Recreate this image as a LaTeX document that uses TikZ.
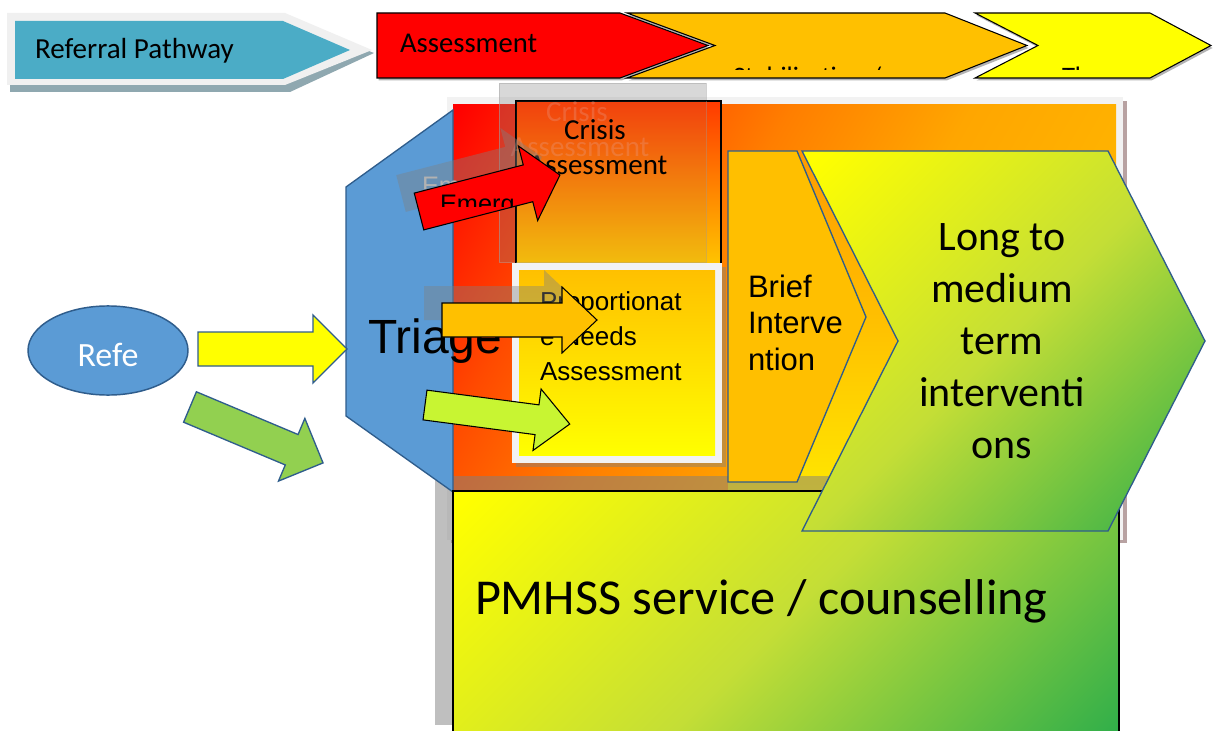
\documentclass[tikz,border=0pt]{standalone}
\usepackage{fontspec}
\setmainfont{Carlito}
\newfontfamily\arialsans{Liberation Sans}
\usetikzlibrary{calc}

\definecolor{pathteal}{HTML}{4BACC6}
\definecolor{pathframe}{HTML}{F0F0F0}
\definecolor{pathshadow}{HTML}{8FA8B0}
\definecolor{shapeblue}{HTML}{5B9BD5}
\definecolor{edgeblue}{HTML}{2F5D8C}
\definecolor{amber}{HTML}{FFC000}
\definecolor{brightyellow}{HTML}{FFFF00}
\definecolor{leafgreen}{HTML}{92D050}
\definecolor{limegreen}{HTML}{C8F532}
\definecolor{framegray}{HTML}{F2F2F2}
\definecolor{frameshadow}{HTML}{B8A2A2}
\definecolor{chevshadow}{HTML}{B4B4B4}
\definecolor{pnlA}{HTML}{FF4A00}
\definecolor{pnlB}{HTML}{FF7E00}
\definecolor{pnlC}{HTML}{FFA600}
\definecolor{grnA}{HTML}{C4DE36}
\definecolor{grnB}{HTML}{2EAE4A}
\definecolor{crisistop}{HTML}{FF3A00}
\definecolor{crisismid}{HTML}{FF9A00}
\definecolor{crisisbot}{HTML}{FFC400}
\definecolor{slivertop}{HTML}{FF9A00}
\definecolor{sliverbot}{HTML}{FFE600}
\definecolor{briefamber}{HTML}{FFBF00}
\definecolor{ghostink}{HTML}{E8A090}

\pgfdeclarehorizontalshading{panelshade}{100bp}{color(0bp)=(red); color(16bp)=(red); color(30bp)=(pnlA); color(42bp)=(pnlB); color(56bp)=(pnlC); color(84bp)=(amber); color(100bp)=(amber)}
\pgfdeclarehorizontalshading{greenshade}{100bp}{color(0bp)=(brightyellow); color(16bp)=(brightyellow); color(50bp)=(grnA); color(85bp)=(grnB); color(100bp)=(grnB)}

% block arrow outline: length, body half width, head half width, head length
\newcommand{\arrowoutline}[4]{(0,-#2) -- ({#1-#4},-#2) -- ({#1-#4},-#3) -- (#1,0) -- ({#1-#4},#3) -- ({#1-#4},#2) -- (0,#2) -- cycle}

\tikzset{
  lbl/.style={inner sep=0pt, outer sep=0pt, text=black},
  blueshape/.style={fill=shapeblue, draw=edgeblue, line width=1pt},
  blackedge/.style={draw=black, line width=0.8pt},
  ghostbox/.style={fill=black!50, fill opacity=0.3},
  ghostarrow/.style={fill=black!50, fill opacity=0.4},
  ghosttext/.style={lbl, text=ghostink, text opacity=0.3},
}

\begin{document}
\begin{tikzpicture}[x=0.75pt, y=-0.75pt, line join=miter]
\useasboundingbox (0,0) rectangle (1214,731);
\fill[white] (0,0) rectangle (1214,731);

% ---- referral pathway tag
\fill[pathshadow] (10,20) -- (290,20) -- (374,53) -- (290,92) -- (10,92) -- cycle;
\fill[pathframe] (7,13) -- (285,13) -- (372,50) -- (285,85) -- (7,85) -- cycle;
\fill[pathteal] (15,21) -- (283,21) -- (350,50) -- (283,79) -- (15,79) -- cycle;
\node[lbl, anchor=base west, font=\fontsize{21.8}{26}\selectfont] (refpath) at (35,59) {Referral Pathway};

% ---- stage chevrons
\begin{scope}[shift={(1.5,2.5)}]
  \fill[chevshadow] (377,13) -- (620,13) -- (708,45.5) -- (620,78) -- (377,78) -- cycle;
  \fill[chevshadow] (627,13) -- (945,13) -- (1027,45.5) -- (945,78) -- (627,78) -- (715,45.5) -- cycle;
  \fill[chevshadow] (975,13) -- (1150,13) -- (1211,45.5) -- (1150,78) -- (975,78) -- (1038,45.5) -- cycle;
\end{scope}
\path[fill=red, blackedge] (377,13) -- (620,13) -- (708,45.5) -- (620,78) -- (377,78) -- cycle;
\path[fill=amber, blackedge] (627,13) -- (945,13) -- (1027,45.5) -- (945,78) -- (627,78) -- (715,45.5) -- cycle;
\path[fill=brightyellow, blackedge] (975,13) -- (1150,13) -- (1211,45.5) -- (1150,78) -- (975,78) -- (1038,45.5) -- cycle;
\node[lbl, anchor=base west, font=\fontsize{21.5}{26}\selectfont] (stageassess) at (400,53) {Assessment};
\begin{scope}
  \clip (377,13) rectangle (1214,70);
  \node[lbl, anchor=base west, font=\fontsize{20}{24}\selectfont] (stagestab) at (733,86) {Stabilisation /};
  \node[lbl, anchor=base west, font=\fontsize{20}{24}\selectfont] (stagether) at (1062,86) {Therapy};
\end{scope}

% ---- service frame and background panel
\fill[frameshadow] (451,101) rectangle (1127,543);
\fill[framegray] (447,97) rectangle (1123,540);
\shade[shading=panelshade, shading angle=-30] (453,105) rectangle (1116,491);
\shade[top color=slivertop, bottom color=sliverbot] (728,151) -- (802,151) -- (898,341) -- (822,491) -- (728,491) -- cycle;
\fill[black!50, fill opacity=0.5] (435,476) rectangle (1101,725);

% ---- triage
\path[blueshape] (453,110) -- (346,187) -- (346,416) -- (453,492) -- cycle;
\node[lbl, anchor=base west, font=\arialsans\fontsize{36}{40}\selectfont] (triage) at (368,353) {Triage};

% ---- crisis assessment
\path[ghostbox, draw=black!35, draw opacity=0.5, line width=0.6pt] (499,83) rectangle (706,262);
\shadedraw[top color=crisistop, middle color=crisismid, bottom color=crisisbot, blackedge] (516,101) rectangle (721,264);
\fill[black!50, fill opacity=0.1] (516,101) rectangle (706,262);
\draw[black!40, draw opacity=0.4, line width=0.6pt] (706,101) -- (706,262) -- (516,262);
\node[ghosttext, anchor=base, font=\fontsize{21.75}{26}\selectfont] (crisisghostA) at (577,122) {Crisis};
\node[ghosttext, anchor=base, font=\fontsize{21.75}{26}\selectfont] (crisisghostB) at (580,157) {Assessment};
\node[lbl, anchor=base, font=\fontsize{21.75}{26}\selectfont] (crisisA) at (595,140) {Crisis};
\node[lbl, anchor=base, font=\fontsize{21.75}{26}\selectfont] (crisisB) at (598,175) {Assessment};

% ---- proportionate needs assessment
\fill[black!50, fill opacity=0.45] (516,267) rectangle (726,467);
\fill[framegray] (512,263) rectangle (722,463);
\shade[top color=amber, bottom color=brightyellow] (519,270) rectangle (715,455);
\foreach \t [count=\i] in {Proportionat, e Needs, Assessment}
  \node[lbl, anchor=base west, font=\arialsans\fontsize{19.5}{23}\selectfont] (prop\i) at (540,{310+35*(\i-1)}) {\t};

% ---- emergency arrow and its ghost
\path[ghostarrow, shift={(401,193.5)}, rotate=14.5] \arrowoutline{145.6}{19}{38.5}{33};
\begin{scope}
  \clip[shift={(401,193.5)}, rotate=14.5] \arrowoutline{145.6}{19}{38.5}{33};
  \clip (0,0) rectangle (1214,189);
  \node[lbl, text=black!30, anchor=base west, font=\arialsans\fontsize{19}{22}\selectfont] (emergghost) at (422,195) {Emerg};
\end{scope}
\path[fill=red, blackedge, shift={(419,211.5)}, rotate=14.5] \arrowoutline{145.6}{19}{38.5}{33};
\begin{scope}
  \clip[shift={(419,211.5)}, rotate=14.5] \arrowoutline{145.6}{19}{38.5}{33};
  \clip (0,0) rectangle (1214,207);
  \node[lbl, anchor=base west, font=\arialsans\fontsize{19}{22}\selectfont] (emerg) at (440,213) {Emerg};
\end{scope}

% ---- routine arrow and its ghost
\path[ghostarrow, shift={(424,303)}] \arrowoutline{155}{17}{33}{35};
\path[fill=amber, blackedge, shift={(442,320)}] \arrowoutline{155}{17}{33}{35};

% ---- direct arrow
\path[fill=limegreen, blackedge, shift={(425,405)}, rotate=-7.5] \arrowoutline{146}{15}{31}{33};

% ---- brief intervention
\path[fill=briefamber, draw=edgeblue, line width=1pt] (728,151) -- (797,151) -- (866,317) -- (797,482) -- (728,482) -- cycle;
\foreach \t [count=\i] in {Brief, Interve, ntion}
  \node[lbl, anchor=base west, font=\arialsans\fontsize{23.25}{27}\selectfont] (brief\i) at (748,{297+36.5*(\i-1)}) {\t};

% ---- PMHSS service
\shadedraw[shading=greenshade, shading angle=-45, blackedge] (453,491) rectangle (1119,745);
\node[lbl, anchor=base west, font=\fontsize{37.7}{44}\selectfont] (pmhss) at (475,614) {PMHSS service / counselling};

% ---- long to medium term interventions
\shadedraw[shading=greenshade, shading angle=-45, draw=edgeblue, line width=1pt]
  (802,151) -- (1108,151) -- (1205,341) -- (1108,531) -- (802,531) -- (898,341) -- cycle;
\foreach \t [count=\i] in {Long to, medium, term, interventi, ons}
  \node[lbl, anchor=base, font=\fontsize{31.5}{38}\selectfont] (long\i) at (1002,{251+51.75*(\i-1)}) {\t};

% ---- referral source and entry arrows
\path[blueshape, line width=1.1pt] (108,350.5) ellipse [x radius=60pt, y radius=33.4pt];
\node[lbl, text=white, anchor=base, font=\fontsize{25.5}{30}\selectfont] (refe) at (108,366) {Refe};
\path[fill=brightyellow, draw=edgeblue, line width=1pt, shift={(198,349)}] \arrowoutline{149}{17}{34}{34};
\path[fill=leafgreen, draw=edgeblue, line width=1pt, shift={(190,407)}, rotate=-22.8] \arrowoutline{144.3}{16.5}{34}{34};
\end{tikzpicture}
\end{document}
